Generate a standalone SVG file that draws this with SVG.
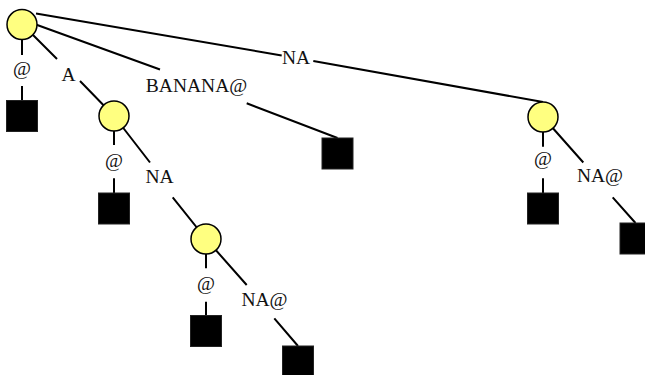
<svg xmlns="http://www.w3.org/2000/svg" width="645" height="375" viewBox="0 0 645 375">
  <style>
    .edge { stroke: #000; stroke-width: 2; fill: none; stroke-linecap: butt; }
    .inner { fill: #ffff80; stroke: #000; stroke-width: 1.5; }
    .leaf { fill: #000; stroke: #222; stroke-width: 1; }
    .lbl { font-family: "Liberation Serif", "Times New Roman", serif; font-size: 19.5px; fill: #111; text-anchor: middle; }
  </style>
  <rect width="645" height="375" fill="#fff"/>

  <!-- connectors, split around their labels -->
  <g id="connectors">
    <!-- root -> $ leaf -->
    <path class="edge" d="M22 39 V55 M22 86 V100.5"/>
    <text class="lbl" x="22" y="74.5">@</text>
    <!-- root -> A node -->
    <path class="edge" d="M22 24 L57 59 M80 81 L114 116"/>
    <text class="lbl" x="68.5" y="81">A</text>
    <!-- root -> BANANA@ leaf -->
    <path class="edge" d="M22 19.5 L160 69.5 M246.7 103.3 L337.5 138"/>
    <text class="lbl" x="196.5" y="91.7">BANANA@</text>
    <!-- root -> NA node -->
    <path class="edge" d="M36 13.5 L281.7 55.5 M313.3 61 L543 102"/>
    <text class="lbl" x="296" y="64.3">NA</text>

    <!-- A -> @ leaf -->
    <path class="edge" d="M114 131 V145 M114 178.3 V193"/>
    <text class="lbl" x="114" y="166.5">@</text>
    <!-- A -> ANA node -->
    <path class="edge" d="M114 116 L150 162.5 M172.7 197.3 L206 239"/>
    <text class="lbl" x="159.5" y="183.3">NA</text>

    <!-- ANA -> @ leaf -->
    <path class="edge" d="M206 254 V268.3 M206 301.7 V315.5"/>
    <text class="lbl" x="206" y="289.5">@</text>
    <!-- ANA -> NA@ leaf -->
    <path class="edge" d="M206 239 L246.7 285 M274.3 318.3 L298 346"/>
    <text class="lbl" x="264.5" y="305.5">NA@</text>

    <!-- NA -> @ leaf -->
    <path class="edge" d="M543 132 V146.7 M543 178.3 V193"/>
    <text class="lbl" x="543" y="165">@</text>
    <!-- NA -> NA@ leaf -->
    <path class="edge" d="M543 117 L583.3 162.5 M612.7 197.3 L635.5 223"/>
    <text class="lbl" x="600" y="182">NA@</text>
  </g>

  <!-- internal nodes -->
  <g id="node-root"><circle class="inner" cx="22" cy="24.5" r="15"/></g>
  <g id="node-A"><circle class="inner" cx="114" cy="116" r="15"/></g>
  <g id="node-ANA"><circle class="inner" cx="206" cy="239" r="15"/></g>
  <g id="node-NA"><circle class="inner" cx="543" cy="117" r="15"/></g>

  <!-- leaves -->
  <g id="leaf-root-at"><rect class="leaf" x="6.5" y="100.5" width="31" height="31"/></g>
  <g id="leaf-banana"><rect class="leaf" x="322" y="138" width="31" height="31"/></g>
  <g id="leaf-A-at"><rect class="leaf" x="98.5" y="193" width="31" height="31"/></g>
  <g id="leaf-ANA-at"><rect class="leaf" x="190.5" y="315.5" width="31" height="31"/></g>
  <g id="leaf-ANA-na"><rect class="leaf" x="282.5" y="346" width="31" height="31"/></g>
  <g id="leaf-NA-at"><rect class="leaf" x="527.5" y="193" width="31" height="31"/></g>
  <g id="leaf-NA-na"><rect class="leaf" x="620" y="223" width="31" height="31"/></g>
</svg>
